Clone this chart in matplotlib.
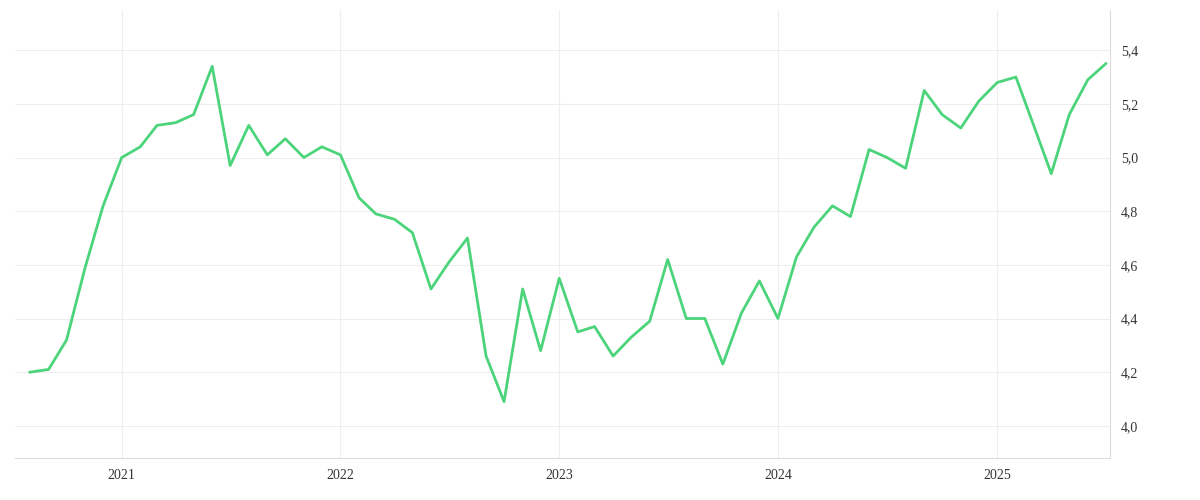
import matplotlib
matplotlib.use("Agg")
import matplotlib.pyplot as plt
import numpy as np
import pandas as pd

dates = pd.date_range("2020-08-01", periods=60, freq="MS")
values = [4.20,4.21,4.32,4.59,4.82,5.00,5.04,5.12,5.13,5.16,5.34,4.97,5.12,5.01,5.07,5.00,5.04,5.01,
          4.85,4.79,4.77,4.72,4.51,4.61,4.70,4.26,4.09,4.51,4.28,4.55,4.35,4.37,4.26,4.33,4.39,4.62,
          4.40,4.40,4.23,4.42,4.54,4.40,4.63,4.74,4.82,4.78,5.03,5.00,4.96,5.25,5.16,5.11,5.21,5.28,
          5.30,5.13,4.94,5.16,5.29,5.35]
yticks = [4.0,4.2,4.4,4.6,4.8,5.0,5.2,5.4]
years = [2021,2022,2023,2024,2025]

fig = plt.figure(figsize=(12,5), dpi=100)
ax = fig.add_axes([15/1200, 42/500, 1095/1200, 448/500])
ax.plot(dates, values, color="#4cd47b", lw=2.0)
ax.set_ylim(3.88, 5.55)
ax.set_xlim(pd.Timestamp("2020-07-07"), pd.Timestamp("2025-07-08"))
ax.set_yticks(yticks)
ax.set_yticklabels([f"{v:.1f}".replace(".", ",") for v in yticks])
ax.set_xticks([pd.Timestamp(f"{y}-01-01") for y in years])
ax.set_xticklabels([str(y) for y in years])
ax.yaxis.tick_right()
ax.grid(True, color="#eeeeee", lw=0.8)
for s in ["top","left"]:
    ax.spines[s].set_visible(False)
ax.spines["bottom"].set_color("#dddddd")
ax.spines["right"].set_color("#dddddd")
ax.tick_params(length=0, labelsize=10, colors="#333333", pad=8)
for lbl in ax.get_xticklabels()+ax.get_yticklabels():
    lbl.set_family("Liberation Serif")
fig.savefig("out.png")
